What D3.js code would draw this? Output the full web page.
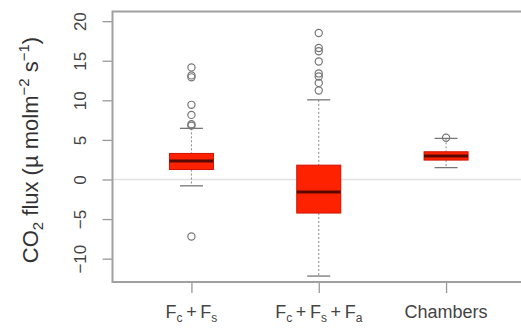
<!DOCTYPE html>
<html>
<head>
<meta charset="utf-8">
<script src="https://cdn.jsdelivr.net/npm/d3@7"></script>
<style>
  html, body { margin: 0; padding: 0; background: #fff; }
  svg { display: block; font-family: "Liberation Sans", Arial, Helvetica, sans-serif; }
</style>
</head>
<body>
<svg id="chart" width="521" height="328"></svg>
<script>
// Groups compared
const categories = ["Fc+Fs", "Fc+Fs+Fa", "Chambers"];
// Label pieces: [main text, subscript]
const categoryLabels = [
  [["F", "c"], ["\u2009+\u2009", null], ["F", "s"]],
  [["F", "c"], ["\u2009+\u2009", null], ["F", "s"], ["\u2009+\u2009", null], ["F", "a"]],
  [["Chambers", null]]
];
// Five-number summaries (µmol m-2 s-1)
const lowerWhisker = [-0.8, -12.2, 1.5];
const q1 = [1.26, -4.24, 2.45];
const median = [2.32, -1.57, 2.96];
const q3 = [3.29, 1.81, 3.5];
const upperWhisker = [6.46, 10.06, 5.19];
// Points beyond the whiskers
const outliers = [
  [14.16, 13.15, 12.9, 9.43, 8.16, 6.97, 6.8, -7.2],
  [18.5, 16.6, 16.2, 14.9, 13.4, 13.0, 12.2, 11.25],
  [5.28]
];
const yTicks = [-10, -5, 0, 5, 10, 15, 20];

const svg = d3.select("#chart");
const frame = { left: 112.5, right: 525, top: 11.5, bottom: 282 };

const x = d3.scaleLinear().domain([0.38, 3.62]).range([frame.left, frame.right]);
const y = d3.scaleLinear().domain([-12.95, 21.22]).range([frame.bottom, frame.top]);
const boxW = 44;
const capW = 23;

// zero reference line
svg.append("line")
  .attr("x1", frame.left).attr("x2", frame.right)
  .attr("y1", y(0)).attr("y2", y(0))
  .attr("stroke", "#e2e2e2").attr("stroke-width", 1.5);

// y axis
const yAxis = svg.append("g")
  .attr("transform", `translate(${frame.left},0)`)
  .call(d3.axisLeft(y).tickValues(yTicks).tickSize(10).tickPadding(0).tickFormat(d3.format("d")));
yAxis.select(".domain").remove();
yAxis.selectAll(".tick line").attr("stroke", "#999").attr("stroke-width", 1.3);
yAxis.selectAll(".tick text")
  .attr("x", 0).attr("y", -32).attr("dy", null)
  .attr("transform", "rotate(-90)")
  .attr("text-anchor", "middle")
  .attr("dominant-baseline", "central")
  .attr("font-size", 17).attr("fill", "#444");

// x axis ticks
const xAxis = svg.append("g")
  .attr("transform", `translate(0,${frame.bottom})`)
  .call(d3.axisBottom(x).tickValues([1, 2, 3]).tickSize(11).tickFormat(""));
xAxis.select(".domain").remove();
xAxis.selectAll(".tick line").attr("stroke", "#999").attr("stroke-width", 1.3);

// x labels with subscripts
categoryLabels.forEach((parts, i) => {
  const t = svg.append("text")
    .attr("x", x(i + 1)).attr("y", 318)
    .attr("text-anchor", "middle")
    .attr("font-size", 18).attr("fill", "#444");
  let shift = 0;
  parts.forEach(([main, sub]) => {
    t.append("tspan").attr("dy", -shift).text(main);
    shift = 0;
    if (sub) {
      t.append("tspan").attr("font-size", 12).attr("dy", 4).text(sub);
      shift = 4;
    }
  });
});

// y axis title
const title = svg.append("text")
  .attr("transform", `translate(38,150) rotate(-90)`)
  .attr("text-anchor", "middle")
  .attr("font-size", 22).attr("fill", "#333");
title.append("tspan").text("CO");
title.append("tspan").attr("font-size", 15).attr("dy", 5).text("2");
title.append("tspan").attr("dy", -5).text(" flux (\u00b5 molm");
title.append("tspan").attr("font-size", 15).attr("dy", -9).text("\u22122");
title.append("tspan").attr("dy", 9).text(" s");
title.append("tspan").attr("font-size", 15).attr("dy", -9).text("\u22121");
title.append("tspan").attr("dy", 9).text(")");

// boxes
const groups = svg.append("g").selectAll("g")
  .data(categories.map((c, i) => ({
    c, i, lo: lowerWhisker[i], q1: q1[i], med: median[i], q3: q3[i], hi: upperWhisker[i], out: outliers[i]
  })))
  .join("g");

groups.append("line")
  .attr("x1", d => x(d.i + 1)).attr("x2", d => x(d.i + 1))
  .attr("y1", d => y(d.hi)).attr("y2", d => y(d.q3))
  .attr("stroke", "#888").attr("stroke-width", 1).attr("stroke-dasharray", "2,2");
groups.append("line")
  .attr("x1", d => x(d.i + 1)).attr("x2", d => x(d.i + 1))
  .attr("y1", d => y(d.q1)).attr("y2", d => y(d.lo))
  .attr("stroke", "#888").attr("stroke-width", 1).attr("stroke-dasharray", "2,2");
groups.selectAll("line.cap")
  .data(d => [d.lo, d.hi].map(v => ({ v, i: d.i })))
  .join("line").attr("class", "cap")
  .attr("x1", d => x(d.i + 1) - capW / 2).attr("x2", d => x(d.i + 1) + capW / 2)
  .attr("y1", d => y(d.v)).attr("y2", d => y(d.v))
  .attr("stroke", "#777").attr("stroke-width", 1.3);
groups.append("rect")
  .attr("x", d => x(d.i + 1) - boxW / 2).attr("width", boxW)
  .attr("y", d => y(d.q3)).attr("height", d => y(d.q1) - y(d.q3))
  .attr("fill", "#ff2200").attr("stroke", "#d01000").attr("stroke-width", 1);
groups.append("line")
  .attr("x1", d => x(d.i + 1) - boxW / 2).attr("x2", d => x(d.i + 1) + boxW / 2)
  .attr("y1", d => y(d.med)).attr("y2", d => y(d.med))
  .attr("stroke", "#5a0800").attr("stroke-width", 3);
groups.selectAll("circle")
  .data(d => d.out.map(v => ({ v, i: d.i })))
  .join("circle")
  .attr("cx", d => x(d.i + 1)).attr("cy", d => y(d.v)).attr("r", 3.6)
  .attr("fill", "none").attr("stroke", "#777").attr("stroke-width", 1.2);

// plot frame (left, top, bottom; right edge sits past the page)
svg.append("path")
  .attr("d", `M${frame.right},${frame.top}H${frame.left}V${frame.bottom}H${frame.right}`)
  .attr("fill", "none").attr("stroke", "#a0a0a0").attr("stroke-width", 2);
</script>
</body>
</html>
